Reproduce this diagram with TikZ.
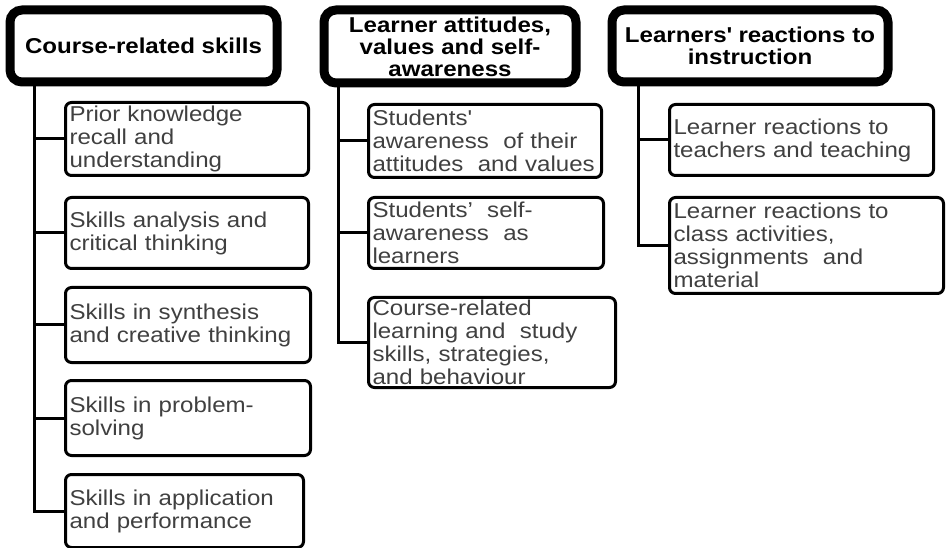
\documentclass[tikz,border=0pt]{standalone}
\usepackage{fontspec}
\setmainfont[FakeStretch=1.12]{Liberation Sans}
\begin{document}
\begin{tikzpicture}[x=1pt,y=-1pt,
  head/.style={draw,line width=9pt,rounded corners=12pt,fill=white,align=center,inner sep=0pt,
    font=\fontsize{21.5}{22}\selectfont\bfseries},
  item/.style={draw,line width=3pt,rounded corners=6pt,fill=white,align=left,anchor=north west,
    inner xsep=4pt,inner ysep=0pt,text=black!75,font=\fontsize{21.5}{23}\selectfont},
  link/.style={line width=3pt}]
\useasboundingbox (0,0) rectangle (946,548);
\node[head,minimum width=267pt,minimum height=72pt] (h1) at (143.5,46) {Course-related skills};
\node[head,minimum width=252pt,minimum height=73pt] (h2) at (450,46.5) {Learner attitudes,\\values and self-\\awareness};
\node[head,minimum width=276pt,minimum height=72pt] (h3) at (750,46) {Learners\textquotesingle{} reactions to\\instruction};
\node[item,text width=235pt,minimum height=73pt] (c1) at (64,101) {Prior knowledge\\recall and\\understanding};
\node[item,text width=235pt,minimum height=71pt] (c2) at (64,196) {Skills analysis and\\critical thinking};
\node[item,text width=237pt,minimum height=75pt] (c3) at (64,286) {Skills in synthesis\\and creative thinking};
\node[item,text width=237pt,minimum height=75pt] (c4) at (64,379) {Skills in problem-\\solving};
\node[item,text width=230pt,minimum height=73pt] (c5) at (64,473) {Skills in application\\and performance};
\node[item,text width=225pt,minimum height=73pt] (d1) at (367,103) {Students\textquotesingle\\awareness\ \ of their\\attitudes\ \ and values};
\node[item,text width=227pt,minimum height=71pt] (d2) at (367,196) {Students’\ \ self-\\awareness\ \ as\\learners};
\node[item,text width=239pt,minimum height=90pt] (d3) at (367,296) {Course-related\\learning and\ \ study\\skills, strategies,\\and behaviour};
\node[item,text width=256pt,minimum height=71pt] (e1) at (668,103) {Learner reactions to\\teachers and teaching};
\node[item,text width=266pt,minimum height=96pt] (e2) at (668,196) {Learner reactions to\\class activities,\\assignments\ \ and\\material};
\foreach \c in {c1,c2,c3,c4,c5}
  \draw[link] ([xshift=29pt]h1.south west) |- (\c.west);
\foreach \c in {d1,d2,d3}
  \draw[link] ([xshift=19pt]h2.south west) |- (\c.west);
\foreach \c in {e1,e2}
  \draw[link] ([xshift=31pt]h3.south west) |- (\c.west);
\end{tikzpicture}
\end{document}
